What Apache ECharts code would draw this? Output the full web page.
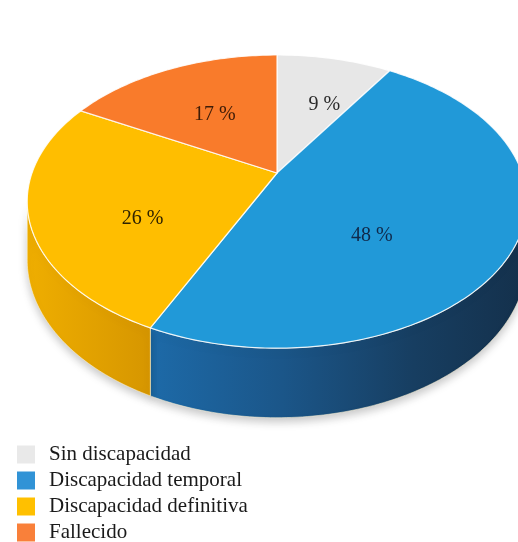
<!DOCTYPE html>
<html><head><meta charset="utf-8">
<script src="https://cdn.jsdelivr.net/npm/echarts@6/dist/echarts.min.js"></script>
<style>html,body{margin:0;padding:0;background:#fff}#c{width:518px;height:542px}</style>
</head><body><div id="c"></div>
<script>
// ---- data ----
const categories = ['Sin discapacidad', 'Discapacidad temporal', 'Discapacidad definitiva', 'Fallecido'];
const values = [9, 48, 26, 17];
const labelTexts = ['9 %', '48 %', '26 %', '17 %'];

// ---- styles ----
const topColors = ['#e7e7e7', '#2199d8', '#ffbe00', '#f97b2b'];
const legendColors = ['#e9e9e9', '#3193d6', '#ffc000', '#f9803a'];
const sideStops = [
  [[0, '#cfcfcf'], [1, '#a9a9a9']],
  [[0, '#1d6aa8'], [0.35, '#1b5689'], [0.7, '#173e61'], [1, '#14304b']],
  [[0, '#efae00'], [1, '#d69600']],
  [[0, '#d9641c'], [1, '#b04e12']]
];
const textColors = ['#2b2b2b', '#10294a', '#2e2200', '#3d1c08'];

const chart = echarts.init(document.getElementById('c'), null, {renderer: 'canvas'});
const total = values.reduce((s, v) => s + v, 0);
const starts = [], ends = [];
let acc = 0;
values.forEach(v => { starts.push(acc / total * 360); acc += v; ends.push(acc / total * 360); });

const G = {cx: 277, cy: 173, rx: 245, ry: 141, a: 5.13, h: 56, lx: 9, ly: 7};
const thL = Math.acos(-1 / G.a) * 180 / Math.PI;
const thR = 360 - thL;
function proj(deg, r) {
  const t = deg * Math.PI / 180;
  const X = r * Math.sin(t), z = r * Math.cos(t);
  const s = G.a / (G.a + z);
  return [G.cx + X * G.rx * s, G.cy - z * G.ry * s, s];
}
function arc(d0, d1, r) {
  const pts = [];
  const n = Math.max(2, Math.ceil(d1 - d0));
  for (let i = 0; i <= n; i++) pts.push(proj(d0 + (d1 - d0) * i / n, r));
  return pts;
}
function centroid(poly) {
  let A = 0, cx = 0, cy = 0;
  for (let i = 0; i < poly.length; i++) {
    const p0 = poly[i], p1 = poly[(i + 1) % poly.length];
    const c = p0[0] * p1[1] - p1[0] * p0[1];
    A += c; cx += (p0[0] + p1[0]) * c; cy += (p0[1] + p1[1]) * c;
  }
  A /= 2;
  return [cx / (6 * A), cy / (6 * A)];
}
function makeRender(i) {
  return function (params, api) {
    const d0 = starts[i], d1 = ends[i];
    const children = [];
    const w0 = Math.max(d0, thL), w1 = Math.min(d1, thR);
    if (w1 > w0) {
      const ta = arc(w0, w1, 1);
      const pts = ta.map(p => [p[0], p[1]]).concat(ta.slice().reverse().map(p => [p[0], p[1] + G.h * p[2]]));
      children.push({
        type: 'polygon', shape: {points: pts}, z2: 1,
        style: {
          fill: new echarts.graphic.LinearGradient(0, 0, 1, 0, sideStops[i].map(s => ({offset: s[0], color: s[1]}))),
          stroke: 'rgba(255,245,215,0.55)', lineWidth: 1,
          shadowBlur: 8, shadowColor: 'rgba(0,0,0,0.22)', shadowOffsetY: 4
        }
      });
    }
    const c0 = proj(0, 0);
    const top = [[c0[0], c0[1]]].concat(arc(d0, d1, 1).map(p => [p[0], p[1]]));
    children.push({
      type: 'polygon', shape: {points: top}, z2: 5,
      style: {fill: topColors[i], stroke: 'rgba(255,255,255,0.85)', lineWidth: 1.2}
    });
    const c = centroid(top);
    children.push({
      type: 'text', x: c[0] + G.lx, y: c[1] + G.ly, z2: 10,
      style: {text: labelTexts[i], fill: textColors[i], font: '20px "Liberation Serif"', align: 'center', verticalAlign: 'middle'}
    });
    return {type: 'group', children};
  };
}

const series = categories.map((name, i) => ({
  type: 'custom', name, coordinateSystem: 'none',
  itemStyle: {color: legendColors[i]},
  data: [[i, values[i]]],
  renderItem: makeRender(i),
  silent: true
}));

chart.setOption({
  backgroundColor: '#fff',
  animation: false,
  legend: {
    orient: 'vertical', left: 17, bottom: -1, padding: 0,
    itemWidth: 18, itemHeight: 18, itemGap: 5, icon: 'rect',
    textStyle: {fontFamily: '"Liberation Serif"', fontSize: 21, color: '#1a1a1a', padding: [0, 0, 0, 9]},
    data: categories
  },
  series
});
</script>
</body></html>
